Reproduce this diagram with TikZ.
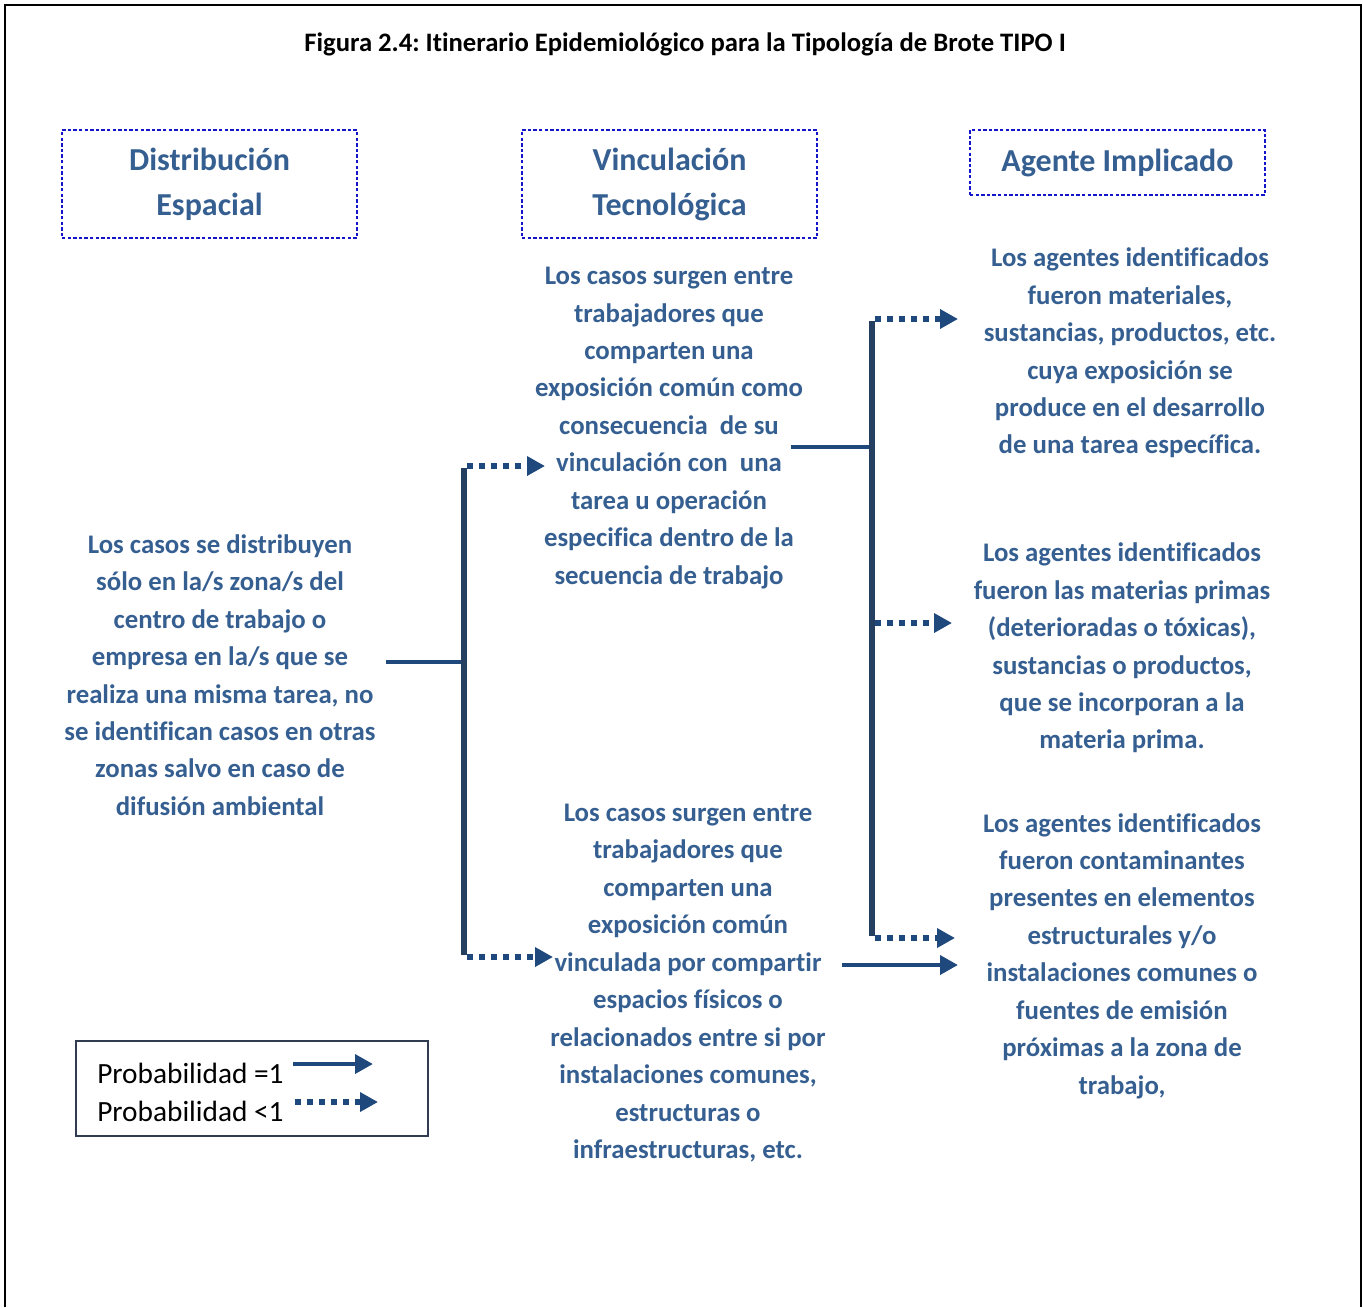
\documentclass[tikz,border=0pt]{standalone}
\usepackage{fontspec}
\setmainfont{Carlito}[Ligatures={NoCommon}]
\usetikzlibrary{arrows.meta}
\frenchspacing

\definecolor{txtblue}{RGB}{54,95,145}
\definecolor{arrblue}{RGB}{31,73,125}
\definecolor{barblue}{RGB}{36,63,96}
\definecolor{boxblue}{RGB}{20,20,200}
\definecolor{legframe}{RGB}{50,60,80}

\tikzset{
  bodytext/.style={text=txtblue, align=center, inner sep=0pt,
    font=\bfseries\fontsize{20.1}{28.1}\selectfont},
  headbox/.style={draw=boxblue, line width=0.8pt, dash pattern=on 2.6pt off 1.6pt,
    text=txtblue, align=center, inner sep=0pt,
    font=\bfseries\fontsize{24}{33.75}\selectfont},
  legtext/.style={anchor=west, inner sep=0pt, font=\fontsize{22}{26}\selectfont},
  solidarrow/.style={draw=arrblue, line width=3.7pt,
    -{Triangle[length=13.5pt,width=14pt]}},
  dotarrow/.style={draw=arrblue, line width=4.2pt, dash pattern=on 4.4pt off 4.6pt,
    -{Triangle[length=13.5pt,width=14pt]}},
  bar/.style={draw=barblue, line width=3.9pt},
  stem/.style={draw=arrblue, line width=3.7pt}
}

\begin{document}
\begin{tikzpicture}[x=0.75pt,y=-0.75pt]
\useasboundingbox (0,0) rectangle (1363,1307);

% outer frame (open at the bottom)
\draw[line width=2.2pt] (5,1307) -- (5,5) -- (1361,5) -- (1361,1307);

% title
\node[inner sep=0pt, font=\bfseries\fontsize{20}{24}\selectfont] (title) at (685,44)
  {Figura 2.4: Itinerario Epidemiológico para la Tipología de Brote TIPO I};

% column headers
\node[headbox, minimum width=221.25pt, minimum height=81pt] (h1) at (209.5,184)
  {Distribución\\Espacial};
\node[headbox, minimum width=221.25pt, minimum height=81pt] (h2) at (669.5,184)
  {Vinculación\\Tecnológica};
\node[headbox, minimum width=221.25pt, minimum height=48.75pt] (h3) at (1117.5,162.5)
  {Agente Implicado};

% texts
\node[bodytext] (dist) at (220,675)
  {Los casos se distribuyen\\sólo en la/s zona/s del\\centro de trabajo o\\empresa en la/s que se\\realiza una misma tarea, no\\se identifican casos en otras\\zonas salvo en caso de\\difusión ambiental};

\node[bodytext] (vtarea) at (669,428)
  {Los casos surgen entre\\trabajadores que\\comparten una\\exposición común como\\consecuencia\ \ de su\\vinculación con\ \ una\\tarea u operación\\especifica dentro de la\\secuencia de trabajo};

\node[bodytext] (vespacio) at (688,983)
  {Los casos surgen entre\\trabajadores que\\comparten una\\exposición común\\vinculada por compartir\\espacios físicos o\\relacionados entre si por\\instalaciones comunes,\\estructuras o\\infraestructuras, etc.};

\node[bodytext] (ag1) at (1130,353)
  {Los agentes identificados\\fueron materiales,\\sustancias, productos, etc.\\cuya exposición se\\produce en el desarrollo\\de una tarea específica.};

\node[bodytext] (ag2) at (1122,648)
  {Los agentes identificados\\fueron las materias primas\\(deterioradas o tóxicas),\\sustancias o productos,\\que se incorporan a la\\materia prima.};

\node[bodytext] (ag3) at (1122,956)
  {Los agentes identificados\\fueron contaminantes\\presentes en elementos\\estructurales y/o\\instalaciones comunes o\\fuentes de emisión\\próximas a la zona de\\trabajo,};

% junction points of the left branch
\coordinate (dOut) at (386,662);
\coordinate (jL) at (464,662);
\coordinate (jLt) at (464,466);
\coordinate (jLb) at (464,957);
\coordinate (vtIn) at (545,466);
\coordinate (veIn) at (553,957);

% junction points of the right branch
\coordinate (vtOut) at (791,447);
\coordinate (jR) at (872,447);
\coordinate (jRt) at (872,319);
\coordinate (jRm) at (872,623);
\coordinate (jRb) at (872,938);
\coordinate (a1In) at (958,319);
\coordinate (a2In) at (952,623);
\coordinate (a3In) at (955,938);
\coordinate (veOut) at (842,965);
\coordinate (a3In2) at (958,965);

% left branch
\draw[stem] (dOut) -- (jL);
\draw[bar] ([yshift=-1.5pt]jLt) -- ([yshift=1.5pt]jLb);
\draw[dotarrow] ([xshift=2pt]jLt) -- (vtIn);
\draw[dotarrow] ([xshift=2pt]jLb) -- (veIn);

% right branch
\draw[stem] (vtOut) -- (jR);
\draw[bar] ([yshift=-1.5pt]jRt) -- ([yshift=1.5pt]jRb);
\draw[dotarrow] ([xshift=2pt]jRt) -- (a1In);
\draw[dotarrow] ([xshift=2pt]jRm) -- (a2In);
\draw[dotarrow] ([xshift=2pt]jRb) -- (a3In);
\draw[solidarrow] (veOut) -- (a3In2);

% legend
\node[draw=legframe, line width=1.3pt, minimum width=264pt, minimum height=71.25pt,
  inner sep=0pt] (legend) at (252,1088.5) {};
\node[legtext] (l1) at (97,1073) {Probabilidad =1};
\node[legtext] (l2) at (97,1111) {Probabilidad <1};
\coordinate (l1a) at (293,1064);
\coordinate (l1b) at (373,1064);
\coordinate (l2a) at (295,1102);
\coordinate (l2b) at (378,1102);
\draw[solidarrow] (l1a) -- (l1b);
\draw[dotarrow] (l2a) -- (l2b);
\end{tikzpicture}
\end{document}
